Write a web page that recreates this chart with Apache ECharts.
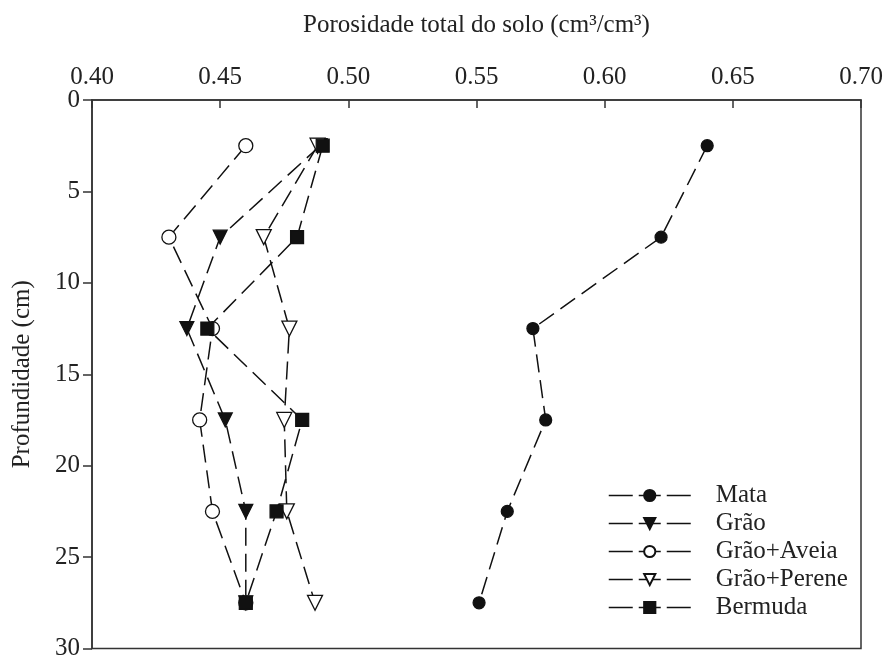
<!DOCTYPE html>
<html>
<head>
<meta charset="utf-8">
<script src="https://cdn.jsdelivr.net/npm/echarts@6/dist/echarts.min.js"></script>
<style>
  html, body { margin: 0; padding: 0; background: #fff; }
  #chart { width: 886px; height: 661px; }
</style>
</head>
<body>
<div id="chart"></div>
<script>
// profundidade (cm) - centro de cada camada
const depths = [2.5, 7.5, 12.5, 17.5, 22.5, 27.5]
const xTicks = [0.40, 0.45, 0.50, 0.55, 0.60, 0.65, 0.70]
const seriesNames = ['Mata', 'Grão', 'Grão+Aveia', 'Grão+Perene', 'Bermuda']

// porosidade total (cm3/cm3)
const mata = [0.640, 0.622, 0.572, 0.577, 0.562, 0.551]
const grao = [0.489, 0.450, 0.437, 0.452, 0.460, 0.460]
const graoAveia = [0.460, 0.430, 0.447, 0.442, 0.447, 0.460]
const graoPerene = [0.488, 0.467, 0.477, 0.475, 0.476, 0.487]
const bermuda = [0.490, 0.480, 0.445, 0.482, 0.472, 0.460]

const FONT = 'Liberation Serif'
const FS = 25
const dash = [18, 8]

const pairs = vals => vals.map((v, i) => [v, depths[i]])

const makeSeries = (name, vals, symbol, size, extra) => Object.assign({
  name,
  type: 'line',
  data: pairs(vals),
  symbol,
  symbolSize: size,
  lineStyle: { color: '#111', width: 1.5, type: dash },
  itemStyle: { color: '#111', borderColor: '#111', borderWidth: 1.2 },
  emphasis: { disabled: true },
  animation: false
}, extra || {})

const chart = echarts.init(document.getElementById('chart'))

const option = {
  backgroundColor: '#fff',
  textStyle: { fontFamily: FONT },
  grid: {
    left: 92, right: 25, top: 100, bottom: 8,
    show: true, borderColor: '#333', borderWidth: 1.5
  },
  legend: {
    orient: 'vertical',
    left: 603,
    top: 478,
    data: seriesNames,
    itemWidth: 82,
    itemHeight: 14,
    itemGap: 3,
    lineStyle: { type: [24, 6, 22, 6], width: 1.5 },
    textStyle: {
      fontFamily: FONT, fontSize: FS, color: '#222',
      padding: [0, 0, 0, 20]
    }
  },
  xAxis: {
    type: 'value',
    position: 'top',
    min: 0.40,
    max: 0.70,
    interval: 0.05,
    name: 'Porosidade total do solo (cm³/cm³)',
    nameLocation: 'middle',
    nameGap: 62,
    nameTextStyle: { fontFamily: FONT, fontSize: FS, color: '#222' },
    axisLine: { lineStyle: { color: '#333', width: 1.5 } },
    axisTick: { inside: true, length: 8, lineStyle: { color: '#333', width: 1.5 } },
    axisLabel: {
      fontFamily: FONT, fontSize: FS, color: '#222', margin: 10,
      formatter: v => {
        const t = xTicks.find(x => Math.abs(x - v) < 1e-6)
        return t !== undefined ? t.toFixed(2) : ''
      }
    },
    splitLine: { show: false }
  },
  yAxis: {
    type: 'value',
    inverse: true,
    min: 0,
    max: 30,
    interval: 5,
    name: 'Profundidade (cm)',
    nameLocation: 'middle',
    nameGap: 57,
    nameTextStyle: { fontFamily: FONT, fontSize: FS, color: '#222' },
    axisLine: { lineStyle: { color: '#333', width: 1.5 } },
    axisTick: { inside: false, length: 9, lineStyle: { color: '#333', width: 1.5 } },
    axisLabel: { fontFamily: FONT, fontSize: FS, color: '#222', margin: 12 },
    splitLine: { show: false }
  },
  series: [
    makeSeries('Mata', mata, 'circle', 12),
    makeSeries('Grão', grao, 'triangle', 14, { symbolRotate: 180 }),
    makeSeries('Grão+Aveia', graoAveia, 'circle', 14, {
      itemStyle: { color: '#fff', borderColor: '#111', borderWidth: 1.3 }
    }),
    makeSeries('Grão+Perene', graoPerene, 'triangle', 15, {
      symbolRotate: 180,
      itemStyle: { color: '#fff', borderColor: '#111', borderWidth: 1.3 }
    }),
    makeSeries('Bermuda', bermuda, 'rect', 13)
  ]
}

chart.setOption(option)
</script>
</body>
</html>
